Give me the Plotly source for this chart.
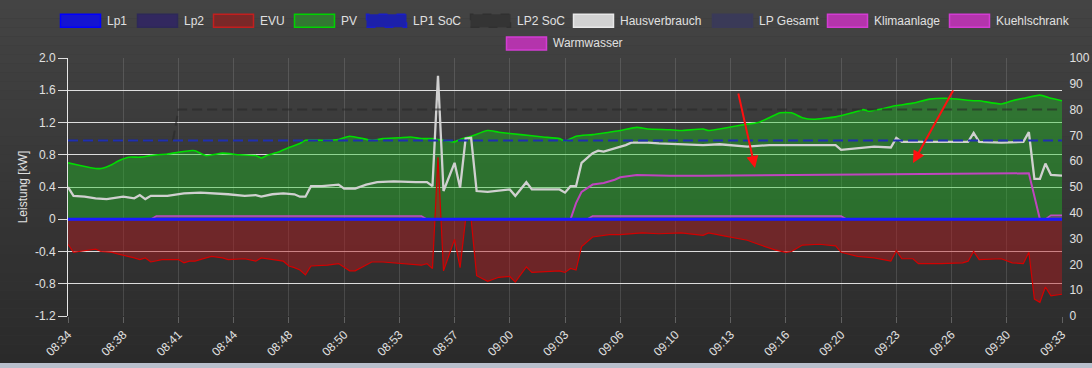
import plotly.graph_objects as go

# ---------------- data ----------------
# x axis: sample number (0..180); a label every 10 samples
TICK_LABELS = ["08:34", "08:38", "08:41", "08:44", "08:48", "08:50", "08:53", "08:57",
               "09:00", "09:03", "09:06", "09:10", "09:13", "09:16", "09:20", "09:23",
               "09:26", "09:30", "09:33"]
TICK_STEP = 10

# (sample, kW)
PV = [(0, 0.70), (2, 0.67), (5, 0.63), (6, 0.63), (8, 0.68), (9, 0.72), (11, 0.77), (13, 0.77),
      (15, 0.79), (18, 0.81), (22, 0.85), (23, 0.85), (25, 0.79), (28, 0.82), (31, 0.80),
      (34, 0.79), (35, 0.76), (36, 0.79), (38, 0.83), (40, 0.89), (42, 0.94), (43, 0.98),
      (46, 0.98), (49, 0.99), (51, 1.03), (55, 0.98), (57, 1.00), (60, 1.01), (62, 1.02),
      (64, 1.00), (66, 1.00), (67, 0.99), (68, 0.98), (70, 0.96), (71, 0.99), (73, 1.03),
      (76, 1.10), (78, 1.08), (82, 1.05), (86, 1.02), (89, 1.00), (90, 0.97), (92, 1.03),
      (95, 1.05), (98, 1.08), (100, 1.10), (103, 1.14), (105, 1.12), (109, 1.11), (111, 1.10),
      (115, 1.12), (116, 1.10), (122, 1.17), (125, 1.20), (127, 1.26), (129, 1.32), (131, 1.32),
      (133, 1.26), (135, 1.24), (139, 1.27), (142, 1.32), (144, 1.36), (145, 1.34), (150, 1.41),
      (153, 1.44), (156, 1.49), (159, 1.50), (164, 1.47), (165, 1.47), (169, 1.43), (171, 1.47),
      (173, 1.50), (176, 1.54), (178, 1.50), (180, 1.47)]

EVU = [(0, -0.31), (1, -0.41), (2, -0.40), (5, -0.37), (6, -0.40), (8, -0.41), (9, -0.43),
       (11, -0.46), (12, -0.48), (13, -0.50), (14, -0.48), (15, -0.53), (17, -0.50), (20, -0.50),
       (21, -0.54), (22, -0.52), (23, -0.52), (25, -0.48), (26, -0.46), (28, -0.48), (29, -0.50),
       (32, -0.49), (34, -0.52), (35, -0.48), (37, -0.50), (39, -0.52), (40, -0.58), (41, -0.60),
       (42, -0.63), (43, -0.69), (44, -0.58), (47, -0.57), (49, -0.55), (50, -0.60), (51, -0.64),
       (52, -0.64), (54, -0.56), (55, -0.53), (57, -0.53), (59, -0.54), (61, -0.55), (63, -0.56),
       (64, -0.57), (65, -0.55), (66, -0.61), (67, 0.77), (68, -0.64), (70, -0.25), (71, -0.60),
       (72, 0.00), (73, 0.00), (74, -0.70), (76, -0.77), (78, -0.72), (80, -0.71), (81, -0.78),
       (83, -0.59), (84, -0.66), (89, -0.64), (90, -0.66), (91, -0.61), (92, -0.63), (93, -0.34),
       (95, -0.22), (96, -0.21), (98, -0.19), (100, -0.19), (104, -0.17), (107, -0.18),
       (111, -0.17), (115, -0.20), (116, -0.17), (119, -0.21), (123, -0.26), (125, -0.31),
       (128, -0.38), (130, -0.41), (131, -0.40), (133, -0.32), (136, -0.31), (139, -0.33),
       (140, -0.41), (143, -0.46), (146, -0.48), (149, -0.52), (150, -0.39), (151, -0.49),
       (153, -0.49), (154, -0.55), (158, -0.55), (162, -0.54), (163, -0.52), (164, -0.40),
       (165, -0.50), (169, -0.49), (171, -0.54), (173, -0.55), (174, -0.41), (175, -0.99),
       (176, -1.03), (177, -0.84), (178, -0.95), (180, -0.93)]

HAUS = [(0, 0.40), (1, 0.29), (3, 0.28), (5, 0.26), (7, 0.25), (9, 0.27), (10, 0.28), (12, 0.26),
        (13, 0.30), (14, 0.25), (15, 0.29), (18, 0.29), (21, 0.32), (24, 0.33), (27, 0.32),
        (29, 0.31), (32, 0.29), (34, 0.30), (35, 0.28), (37, 0.31), (39, 0.32), (41, 0.31),
        (42, 0.28), (43, 0.28), (44, 0.41), (46, 0.41), (49, 0.43), (50, 0.38), (52, 0.38),
        (54, 0.43), (56, 0.46), (59, 0.47), (63, 0.46), (65, 0.46), (66, 0.41), (67, 1.78),
        (68, 0.35), (70, 0.70), (71, 0.39), (72, 1.00), (73, 1.01), (74, 0.35), (76, 0.34),
        (79, 0.36), (80, 0.37), (81, 0.29), (83, 0.46), (84, 0.37), (89, 0.37), (90, 0.33),
        (91, 0.41), (92, 0.41), (93, 0.70), (95, 0.82), (96, 0.85), (97, 0.84), (99, 0.88),
        (101, 0.92), (102, 0.95), (105, 0.95), (107, 0.94), (111, 0.93), (115, 0.92), (118, 0.93),
        (123, 0.90), (127, 0.92), (133, 0.92), (139, 0.92), (140, 0.86), (144, 0.89), (146, 0.90),
        (149, 0.89), (150, 1.01), (151, 0.96), (158, 0.96), (163, 0.96), (164, 1.07), (165, 0.96),
        (169, 0.95), (173, 0.96), (174, 1.08), (175, 0.50), (176, 0.50), (177, 0.69), (178, 0.55),
        (180, 0.54)]

WARMWASSER = [(0, 0.0), (91, 0.0), (92, 0.20), (93, 0.34), (95, 0.43), (97, 0.45), (99, 0.49),
              (100, 0.52), (103, 0.55), (109, 0.54), (115, 0.54), (133, 0.55), (164, 0.56),
              (174, 0.57), (176, 0.0), (180, 0.0)]

KUEHLSCHRANK = [(0, 0.0), (15, 0.0), (16, 0.04), (64, 0.04), (65, 0.0), (94, 0.0), (95, 0.04),
                (140, 0.04), (141, 0.0), (177, 0.0), (178, 0.05), (180, 0.05)]
KLIMAANLAGE = [(0, 0.0), (180, 0.0)]
LP_GESAMT = [(0, 0.0), (180, 0.0)]
LP1 = [(0, 0.0), (180, 0.0)]
LP2 = [(0, 0.0), (180, 0.0)]

# state of charge, percent (right axis)
LP1_SOC = [(0, 68), (180, 68)]
LP2_SOC = [(0, 68), (19, 68), (20, 80), (180, 80)]

Y_TICKS = [-1.2, -0.8, -0.4, 0, 0.4, 0.8, 1.2, 1.6, 2.0]
Y_TICK_TEXT = ["-1.2", "-0.8", "-0.4", "0", "0.4", "0.8", "1.2", "1.6", "2.0"]
Y2_TICKS = list(range(0, 101, 10))

# ---------------- layout helpers ----------------
W, H = 1092, 368
ML, MR, MT, MB = 68, 30, 58, 52
PW, PH = W - ML - MR, H - MT - MB
FONT = "Arial, Liberation Sans, sans-serif"
TXT = "#e0e0e0"


def px(x):
    return (x - ML) / PW


def py(y):
    return (H - MB - y) / PH


def xy(pts):
    return [p[0] for p in pts], [p[1] for p in pts]


fig = go.Figure()


def add(pts, name, color, width, yaxis="y", fill=None, fillcolor=None, dash=None,
        shape="linear"):
    x, y = xy(pts)
    line = dict(color=color, width=width, dash=dash, shape=shape)
    if shape == "spline":
        line["smoothing"] = 0.5
    fig.add_trace(go.Scatter(
        x=x, y=y, name=name, mode="lines", yaxis=yaxis, line=line,
        fill=fill, fillcolor=fillcolor, showlegend=False, hoverinfo="skip"))


# drawing order bottom -> top
add(LP2_SOC, "LP2 SoC", "rgba(40,40,40,0.6)", 2, yaxis="y2", dash="10px,5px")
add(PV, "PV", "#00dd00", 1.6, fill="tozeroy", fillcolor="rgba(31,201,36,0.40)", shape="spline")
add(EVU, "EVU", "#d40000", 1.2, fill="tozeroy", fillcolor="rgba(184,24,29,0.45)")
add(KLIMAANLAGE, "Klimaanlage", "#c040c0", 1.5)
add(KUEHLSCHRANK, "Kuehlschrank", "#c04cc0", 1.6, fill="tozeroy", fillcolor="rgba(180,60,180,0.45)")
add(WARMWASSER, "Warmwasser", "#bf45bf", 2)
add(HAUS, "Hausverbrauch", "#d0d0d0", 2.3)
add(LP1_SOC, "LP1 SoC", "#1f2fb0", 2, yaxis="y2", dash="10px,5px")
add(LP_GESAMT, "LP Gesamt", "#3a3a60", 2)
add(LP2, "Lp2", "#32285a", 2)
add(LP1, "Lp1", "#1a1aff", 3)

# ---------------- background gradient ----------------
shapes = []
N = 40
top_c, bot_c = 68, 42
y_end = 363
for i in range(N):
    y0 = y_end * i / N
    y1 = y_end * (i + 1) / N
    c = round(top_c + (bot_c - top_c) * (i + 0.5) / N)
    shapes.append(dict(type="rect", xref="paper", yref="paper", layer="below",
                       x0=px(0), x1=px(W), y0=py(y1), y1=py(y0),
                       fillcolor=f"rgb({c},{c},{c})", line=dict(width=0)))
shapes.append(dict(type="rect", xref="paper", yref="paper", layer="below",
                   x0=px(0), x1=px(W), y0=py(H), y1=py(y_end),
                   fillcolor="#b8bfcc", line=dict(width=0)))

# ---------------- custom legend (Chart.js style boxes) ----------------
LEGEND_ITEMS = [
    ("Lp1", "rgb(20,20,210)", "rgb(0,0,255)", None, 60, 0),
    ("Lp2", "rgb(50,40,95)", "rgb(45,40,88)", None, 137, 0),
    ("EVU", "rgb(122,40,40)", "rgb(195,30,30)", None, 213, 0),
    ("PV", "rgb(50,120,50)", "rgb(0,210,0)", None, 294, 0),
    ("LP1 SoC", "rgb(28,32,170)", "rgb(25,30,200)", "dash", 366, 0),
    ("LP2 SoC", "rgb(52,52,52)", "rgb(48,48,48)", "dash", 470, 0),
    ("Hausverbrauch", "rgb(210,210,210)", "rgb(232,232,232)", None, 573, 0),
    ("LP Gesamt", "rgb(58,58,88)", "rgb(58,58,88)", None, 712, 0),
    ("Klimaanlage", "rgb(180,52,172)", "rgb(210,60,210)", None, 827, 0),
    ("Kuehlschrank", "rgb(180,52,172)", "rgb(210,60,210)", None, 949, 0),
    ("Warmwasser", "rgb(180,52,172)", "rgb(210,60,210)", None, 506, 1),
]
ROW_CENTER = [20.8, 43.5]
BOX_W, BOX_H = 40, 13
annotations = []
for name, fc, lc, dash, bx, row in LEGEND_ITEMS:
    cy = ROW_CENTER[row]
    shapes.append(dict(type="rect", xref="paper", yref="paper", layer="above",
                       x0=px(bx + 0.5), x1=px(bx + BOX_W + 0.5),
                       y0=py(cy + BOX_H / 2), y1=py(cy - BOX_H / 2),
                       fillcolor=fc, line=dict(color=lc, width=1.5, dash=dash)))
    annotations.append(dict(text=name, xref="paper", yref="paper", x=px(bx + BOX_W + 5),
                            y=py(cy), xanchor="left", yanchor="middle", showarrow=False,
                            font=dict(family=FONT, size=12, color=TXT)))

# red hint arrows of the screenshot
for (hx, hy, tx, ty) in [(755, 168, 738, 92), (913, 163, 954, 89)]:
    annotations.append(dict(text="", xref="paper", yref="paper", x=px(hx), y=py(hy),
                            ax=tx - hx, ay=ty - hy, showarrow=True, arrowhead=2,
                            arrowsize=1.2, arrowwidth=2, arrowcolor="#ff1010"))

fig.update_layout(
    width=W, height=H, autosize=False,
    margin=dict(l=ML, r=MR, t=MT, b=MB, pad=0, autoexpand=False),
    paper_bgcolor="#383838", plot_bgcolor="rgba(0,0,0,0)",
    font=dict(family=FONT, size=12, color=TXT),
    showlegend=False,
    shapes=shapes, annotations=annotations,
    xaxis=dict(range=[0, (len(TICK_LABELS) - 1) * TICK_STEP], automargin=False,
               tickvals=[i * TICK_STEP for i in range(len(TICK_LABELS))],
               ticktext=TICK_LABELS, tickangle=-45,
               tickfont=dict(size=12, color=TXT),
               showgrid=True, gridcolor="rgba(255,255,255,0.13)", gridwidth=1,
               ticks="outside", ticklen=6, tickcolor="rgba(255,255,255,0.25)",
               showline=False, zeroline=False, fixedrange=True),
    yaxis=dict(range=[-1.2, 2.0], tickvals=Y_TICKS, ticktext=Y_TICK_TEXT, automargin=False,
               tickfont=dict(size=12, color=TXT),
               showgrid=True, gridcolor="rgba(240,240,240,0.9)", gridwidth=1,
               ticks="outside", ticklen=9, tickcolor="rgba(240,240,240,0.9)",
               showline=True, linecolor="rgba(240,240,240,0.95)", linewidth=1,
               zeroline=False,
               title=dict(text="Leistung [kW]", font=dict(size=12, color=TXT), standoff=4)),
    yaxis2=dict(range=[0, 100], tickvals=Y2_TICKS, overlaying="y", side="right",
                automargin=False,
                tickfont=dict(size=12, color=TXT), showgrid=False, zeroline=False,
                ticks="outside", ticklen=4, tickcolor="rgba(0,0,0,0)", showline=False),
)

# the page body has a default 8px margin; remove it (and any scrollbars)
# so the 1092x368 figure exactly fills the window
PAGE_FIX = ("var s=document.createElement('style');"
            "s.textContent='html,body{margin:0;padding:0;overflow:hidden;"
            "background:#383838;width:1092px;height:368px;}';"
            "document.head.appendChild(s);")
fig.write_html("out.html", config={"displayModeBar": False},
               post_script=PAGE_FIX)
